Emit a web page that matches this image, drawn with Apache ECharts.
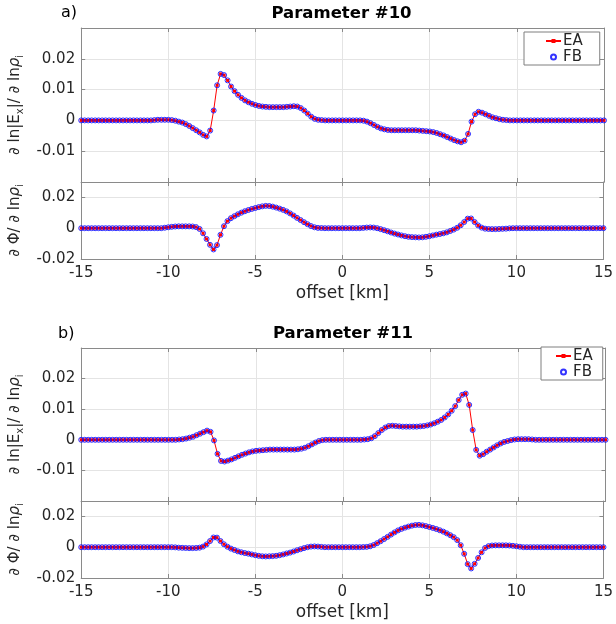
<!DOCTYPE html>
<html>
<head>
<meta charset="utf-8">
<script src="https://cdn.jsdelivr.net/npm/echarts@6/dist/echarts.min.js"></script>
<style>
  html, body { margin: 0; padding: 0; background: #ffffff; }
  #chart { width: 616px; height: 624px; }
</style>
</head>
<body>
<div id="chart"></div>
<script>
// Receiver offsets in km, sampled every 0.2 km from -15 to 15
const offsets = Array.from({ length: 151 }, (_, i) => Math.round((-15 + 0.2 * i) * 10) / 10);

// Parameter #10 — sensitivity of ln|Ex| (EA and FB agree, same samples)
const lnEx10 = [
  0, 0, 0, 0, 0,  0, 0, 0, 0, 0,  0, 0, 0, 0, 0,  0, 0, 0, 0, 0,
  0, 0.0001, 0.0002, 0.0002, 0.0002,
  0.0002, 0.0001, -0.0001, -0.0004, -0.0007,
  -0.0012, -0.0018, -0.0025, -0.0032, -0.0039,
  -0.0047, -0.0052, -0.0033, 0.0032, 0.0114,
  0.0151, 0.0147, 0.0130, 0.0110, 0.0095,
  0.0083, 0.0073, 0.0065, 0.0059, 0.0054,
  0.0050, 0.0047, 0.0045, 0.0044, 0.0043,
  0.0043, 0.0043, 0.0043, 0.0043, 0.0044,
  0.0045, 0.0046, 0.0045, 0.0040, 0.0032,
  0.0022, 0.0012, 0.0005, 0.0002, 0.0001,
  0, 0, 0, 0, 0,
  0, 0, 0, 0, 0,
  0, -0.0001, -0.0004, -0.0009, -0.0015,
  -0.0021, -0.0026, -0.0029, -0.0031, -0.0032,
  -0.0032, -0.0032, -0.0032, -0.0032, -0.0032,
  -0.0032, -0.0032, -0.0033, -0.0034, -0.0035,
  -0.0036, -0.0038, -0.0041, -0.0045, -0.0049,
  -0.0054, -0.0059, -0.0064, -0.0068, -0.0071,
  -0.0066, -0.0044, -0.0004, 0.0020, 0.0028,
  0.0025, 0.0020, 0.0015, 0.0010, 0.0007,
  0.0004, 0.0002, 0.0001, 0, 0,
  0, 0, 0, 0, 0,  0, 0, 0, 0, 0,  0, 0, 0, 0, 0,  0, 0, 0, 0, 0,  0, 0, 0, 0, 0,
  0
];

// Parameter #10 — sensitivity of the phase
const phi10 = [
  0, 0, 0, 0, 0,  0, 0, 0, 0, 0,  0, 0, 0, 0, 0,  0, 0, 0, 0, 0,
  0, 0, 0, 0, 0.0003,
  0.0006, 0.0009, 0.0011, 0.0012, 0.0012,
  0.0012, 0.0012, 0.0011, 0.0007, -0.0005,
  -0.0033, -0.0070, -0.0108, -0.0138, -0.0110,
  -0.0043, 0.0013, 0.0046, 0.0065, 0.0078,
  0.0090, 0.0101, 0.0110, 0.0118, 0.0125,
  0.0131, 0.0137, 0.0142, 0.0145, 0.0144,
  0.0140, 0.0134, 0.0127, 0.0119, 0.0109,
  0.0096, 0.0082, 0.0067, 0.0053, 0.0039,
  0.0026, 0.0014, 0.0006, 0.0002, 0.0001,
  0, 0, 0, 0, 0,
  0, 0, 0, 0, 0,
  0, 0.0002, 0.0004, 0.0005, 0.0004,
  0, -0.0006, -0.0013, -0.0020, -0.0028,
  -0.0035, -0.0041, -0.0047, -0.0052, -0.0056,
  -0.0058, -0.0059, -0.0060, -0.0059, -0.0056,
  -0.0052, -0.0047, -0.0042, -0.0038, -0.0033,
  -0.0027, -0.0018, -0.0009, 0.0003, 0.0019,
  0.0040, 0.0062, 0.0063, 0.0040, 0.0018,
  0.0004, -0.0003, -0.0005, -0.0006, -0.0006,
  -0.0005, -0.0004, -0.0003, -0.0001, 0,
  0, 0, 0, 0, 0,  0, 0, 0, 0, 0,  0, 0, 0, 0, 0,  0, 0, 0, 0, 0,  0, 0, 0, 0, 0,
  0
];

// Parameter #11 — sensitivity of ln|Ex|
const lnEx11 = [
  0, 0, 0, 0, 0,  0, 0, 0, 0, 0,  0, 0, 0, 0, 0,  0, 0, 0, 0, 0,
  0, 0, 0, 0, 0,
  0, 0, 0, 0.0001, 0.0002,
  0.0004, 0.0007, 0.0010, 0.0015, 0.0020,
  0.0025, 0.0030, 0.0026, -0.0002, -0.0046,
  -0.0069, -0.0071, -0.0068, -0.0064, -0.0059,
  -0.0054, -0.0049, -0.0045, -0.0041, -0.0038,
  -0.0036, -0.0035, -0.0034, -0.0033, -0.0032,
  -0.0032, -0.0032, -0.0032, -0.0032, -0.0032,
  -0.0032, -0.0032, -0.0031, -0.0029, -0.0026,
  -0.0021, -0.0015, -0.0009, -0.0004, -0.0001,
  0, 0, 0, 0, 0,
  0, 0, 0, 0, 0,
  0, 0.0001, 0.0002, 0.0005, 0.0012,
  0.0022, 0.0032, 0.0040, 0.0045, 0.0046,
  0.0045, 0.0044, 0.0043, 0.0043, 0.0043,
  0.0043, 0.0043, 0.0044, 0.0045, 0.0047,
  0.0050, 0.0054, 0.0059, 0.0065, 0.0073,
  0.0083, 0.0095, 0.0110, 0.0130, 0.0147,
  0.0151, 0.0114, 0.0032, -0.0033, -0.0052,
  -0.0047, -0.0039, -0.0032, -0.0025, -0.0018,
  -0.0012, -0.0007, -0.0004, -0.0001, 0.0001,
  0.0002, 0.0002, 0.0002, 0.0002, 0.0001,
  0, 0, 0, 0, 0,  0, 0, 0, 0, 0,  0, 0, 0, 0, 0,  0, 0, 0, 0, 0,
  0
];

// Parameter #11 — sensitivity of the phase
const phi11 = [
  0, 0, 0, 0, 0,  0, 0, 0, 0, 0,  0, 0, 0, 0, 0,  0, 0, 0, 0, 0,
  0, 0, 0, 0, 0,
  0, 0, -0.0001, -0.0003, -0.0004,
  -0.0005, -0.0006, -0.0006, -0.0005, -0.0003,
  0.0004, 0.0018, 0.0040, 0.0063, 0.0062,
  0.0040, 0.0019, 0.0003, -0.0009, -0.0018,
  -0.0027, -0.0033, -0.0038, -0.0042, -0.0047,
  -0.0052, -0.0056, -0.0059, -0.0060, -0.0059,
  -0.0058, -0.0056, -0.0052, -0.0047, -0.0041,
  -0.0035, -0.0028, -0.0020, -0.0013, -0.0006,
  0, 0.0004, 0.0005, 0.0004, 0.0002,
  0, 0, 0, 0, 0,
  0, 0, 0, 0, 0,
  0, 0.0001, 0.0002, 0.0006, 0.0014,
  0.0026, 0.0039, 0.0053, 0.0067, 0.0082,
  0.0096, 0.0109, 0.0119, 0.0127, 0.0134,
  0.0140, 0.0144, 0.0145, 0.0142, 0.0137,
  0.0131, 0.0125, 0.0118, 0.0110, 0.0101,
  0.0090, 0.0078, 0.0065, 0.0046, 0.0013,
  -0.0043, -0.0110, -0.0138, -0.0108, -0.0070,
  -0.0033, -0.0005, 0.0007, 0.0011, 0.0012,
  0.0012, 0.0012, 0.0012, 0.0011, 0.0009,
  0.0006, 0.0003, 0, 0, 0,
  0, 0, 0, 0, 0,  0, 0, 0, 0, 0,  0, 0, 0, 0, 0,  0, 0, 0, 0, 0,
  0
];

const xTicks = { min: -15, max: 15, interval: 5 };
const panelTitles = ['Parameter #10', 'Parameter #11'];
const panelTags = ['a)', 'b)'];
const seriesNames = ['EA', 'FB'];

const FONT = 'DejaVu Sans';
const TEXT = '#262626';
const FRAME = '#8a8a8a';
const GRIDLINE = '#e4e4e4';

const pairs = (vals) => offsets.map((x, i) => [x, vals[i]]);

// Grid boxes: [left, top, width, height]
const boxes = [
  [79, 28, 525, 154],
  [79, 182, 525, 77],
  [80.5, 348, 525, 153],
  [80.5, 501, 525, 77]
];
const sets = [lnEx10, phi10, lnEx11, phi11];

const nameRich = {
  d: { fontSize: 15, fontFamily: FONT, color: TEXT, lineHeight: 20 },
  r: { fontSize: 15, fontFamily: FONT, color: TEXT, fontStyle: 'italic', lineHeight: 20 },
  s: { fontSize: 10, fontFamily: FONT, color: TEXT, lineHeight: 10, verticalAlign: 'bottom' }
};
const nameUpper = '{d|∂ ln|E}{s|x}{d||/ ∂ ln}{r|ρ}{s|i}';
const nameLower = '{d|∂ Φ/ ∂ ln}{r|ρ}{s|i}';

const grid = [], xAxis = [], yAxis = [], series = [];

boxes.forEach((b, g) => {
  const isUpper = g % 2 === 0;
  grid.push({ left: b[0], top: b[1], width: b[2], height: b[3], containLabel: false });

  const frameLine = { show: true, onZero: false, lineStyle: { color: FRAME, width: 1 } };
  const tick = { show: true, inside: true, length: 4, lineStyle: { color: FRAME, width: 1 } };

  xAxis.push({
    type: 'value', gridIndex: g, position: 'bottom',
    min: xTicks.min, max: xTicks.max, interval: xTicks.interval,
    axisLine: frameLine, axisTick: tick,
    axisLabel: { show: !isUpper, color: TEXT, fontSize: 15, fontFamily: FONT, margin: 7 },
    splitLine: { show: true, lineStyle: { color: GRIDLINE, width: 1 } },
    name: isUpper ? '' : 'offset [km]', nameLocation: 'middle', nameGap: 26,
    nameTextStyle: { color: TEXT, fontSize: 17, fontFamily: FONT }
  });
  xAxis.push({
    type: 'value', gridIndex: g, position: 'top',
    min: xTicks.min, max: xTicks.max, interval: xTicks.interval,
    axisLine: frameLine, axisTick: tick,
    axisLabel: { show: false }, splitLine: { show: false }
  });

  const yIv = isUpper ? 0.01 : 0.02;
  yAxis.push({
    type: 'value', gridIndex: g, position: 'left',
    min: -0.02, max: 0.03, interval: yIv,
    axisLine: frameLine, axisTick: tick,
    axisLabel: {
      color: TEXT, fontSize: 15, fontFamily: FONT, margin: 6,
      showMinLabel: !isUpper, showMaxLabel: false
    },
    splitLine: { show: true, lineStyle: { color: GRIDLINE, width: 1 } },
    name: isUpper ? nameUpper : nameLower,
    nameLocation: 'middle', nameGap: 47, nameRotate: 90,
    nameTextStyle: { rich: nameRich }
  });
  yAxis.push({
    type: 'value', gridIndex: g, position: 'right',
    min: -0.02, max: 0.03, interval: yIv,
    axisLine: frameLine, axisTick: tick,
    axisLabel: { show: false }, splitLine: { show: false }
  });

  const data = pairs(sets[g]);
  series.push({
    type: 'line', name: seriesNames[0],
    xAxisIndex: 2 * g, yAxisIndex: 2 * g,
    data: data, symbol: 'rect', symbolSize: 3, showSymbol: true,
    lineStyle: { color: '#ff0000', width: 1 },
    itemStyle: { color: '#ff0000' },
    emphasis: { disabled: true }, z: 2, animation: false
  });
  series.push({
    type: 'scatter', name: seriesNames[1],
    xAxisIndex: 2 * g, yAxisIndex: 2 * g,
    data: data, symbol: 'circle', symbolSize: 5,
    itemStyle: { color: 'rgba(0,0,0,0)', borderColor: '#0000ff', borderWidth: 1 },
    emphasis: { disabled: true }, z: 3, animation: false
  });
});

const legendBase = {
  orient: 'vertical', data: seriesNames, selectedMode: false,
  itemWidth: 15, itemHeight: 5, itemGap: 0,
  borderColor: '#7f7f7f', borderWidth: 1, borderRadius: 0, backgroundColor: '#ffffff',
  textStyle: { color: TEXT, fontSize: 15, fontFamily: FONT, lineHeight: 16, padding: [0, 0, 0, -3] }
};

const titleStyle = { fontSize: 16.5, fontWeight: 'bold', color: '#000000', fontFamily: FONT };
const tagStyle = { fontSize: 16, fontWeight: 'normal', color: '#000000', fontFamily: FONT };

const option = {
  animation: false,
  backgroundColor: '#ffffff',
  title: [
    { text: panelTitles[0], left: 341.5, top: 5, textAlign: 'center', padding: 0, textStyle: titleStyle },
    { text: panelTags[0], left: 61, top: 5, padding: 0, textStyle: tagStyle },
    { text: panelTitles[1], left: 343, top: 325, textAlign: 'center', padding: 0, textStyle: titleStyle },
    { text: panelTags[1], left: 58, top: 326, padding: 0, textStyle: tagStyle }
  ],
  legend: [
    Object.assign({}, legendBase, { left: 524, top: 32, padding: [1, 17, 0, 21] }),
    Object.assign({}, legendBase, { left: 541, top: 347, padding: [1, 10, 0, 14] })
  ],
  grid, xAxis, yAxis, series
};

const chart = echarts.init(document.getElementById('chart'), null, { renderer: 'canvas' });
chart.setOption(option);
</script>
</body>
</html>
